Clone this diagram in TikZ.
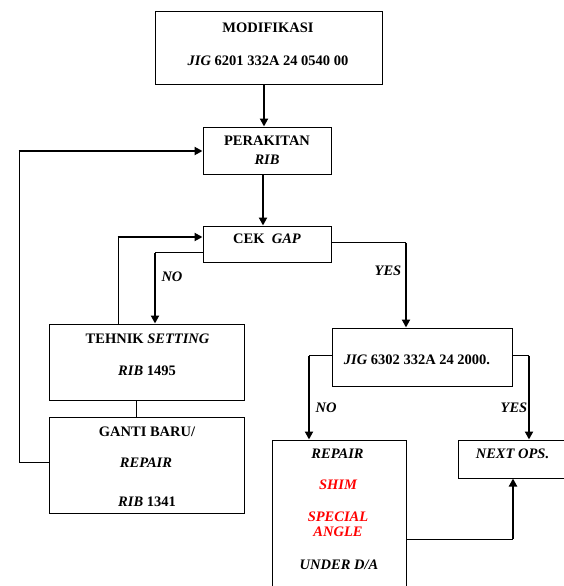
\documentclass[tikz,border=0pt]{standalone}
\usepackage{fontspec}
\setmainfont{Liberation Serif}
\usetikzlibrary{arrows.meta,calc}
\definecolor{redtxt}{RGB}{255,0,0}
\begin{document}
\begin{tikzpicture}[x=1pt,y=-1pt,
  box/.style={draw=black,line width=1pt,minimum width=#1,inner sep=0pt,fill=white},
  txt/.style={inner sep=0pt,font=\fontsize{14.5}{16}\selectfont\bfseries,text=black},
  rtxt/.style={txt,text=redtxt},
  thinline/.style={line width=1pt},
  thickline/.style={line width=2.4pt},
  arr/.style={line width=2.4pt,-{Triangle[length=8pt,width=8pt]}}
]
\useasboundingbox (0,0) rectangle (564,586);
\clip (0,0) rectangle (564,586);
% boxes
\node[box=227pt,minimum height=72pt] (mod) at (268.5,48) {};
\node[box=128pt,minimum height=47pt] (per) at (267,150.5) {};
\node[box=128pt,minimum height=36pt] (cek) at (267,244) {};
\node[box=195pt,minimum height=76pt] (teh) at (146.5,362) {};
\node[box=195pt,minimum height=96pt] (gan) at (146.5,465) {};
\node[box=180pt,minimum height=58pt] (jig) at (422,357) {};
\node[box=134pt,minimum height=150pt] (rep) at (339,515) {};
\node[box=110pt,minimum height=38pt] (nxt) at (513,459) {};
% texts
\node[txt] (t1) at (268,28) {MODIFIKASI};
\node[txt] (t2) at (268,61) {\itshape JIG\upshape{} 6201 332A 24 0540 00};
\node[txt] (t3) at (267,141) {PERAKITAN};
\node[txt] (t4) at (267,160) {\itshape RIB};
\node[txt] (t5) at (267,239) {CEK\ \ \itshape GAP};
\node[txt] (t6) at (147.5,339) {TEHNIK \itshape SETTING};
\node[txt] (t7) at (147,371) {\itshape RIB\upshape{} 1495};
\node[txt] (t8) at (147,432) {GANTI BARU/};
\node[txt] (t9) at (146,463) {\itshape REPAIR};
\node[txt] (t10) at (147,502) {\itshape RIB\upshape{} 1341};
\node[txt] (t11) at (417,360) {\itshape JIG\upshape{} 6302 332A 24 2000.};
\node[txt] (t12) at (337.5,454) {\itshape REPAIR};
\node[rtxt] (t13) at (338,485) {\itshape SHIM};
\node[rtxt] (t14) at (338,517) {\itshape SPECIAL};
\node[rtxt] (t15) at (338,532) {\itshape ANGLE};
\node[txt] (t16) at (339,565) {\itshape UNDER D/A};
\node[txt] (t17) at (512.5,454) {\itshape NEXT OPS.};
% labels
\node[txt] (no1) at (172,277) {\itshape NO};
\node[txt] (yes1) at (388,271) {\itshape YES};
\node[txt] (no2) at (326,408) {\itshape NO};
\node[txt] (yes2) at (514,408) {\itshape YES};
% coordinates
\coordinate (L1) at (19,462);
\coordinate (L2) at (19,151);
\coordinate (I1) at (118,237);
\coordinate (N1) at (155,252);
\coordinate (Y1) at (406,242);
\coordinate (J1) at (309,355);
\coordinate (J2) at (529,355);
\coordinate (R1) at (513,539);
% connectors
\draw[arr] ([xshift=-4.5pt]mod.south) -- ([xshift=-4.5pt]mod.south |- per.north);
\draw[arr] ([xshift=-4pt]per.south) -- ([xshift=-4pt]per.south |- cek.north);
\draw[thinline] (L1 -| gan.west) -- (L1) -- ([yshift=-1pt]L2);
\draw[arr] ([xshift=-0.5pt]L2) -- (L2 -| per.west);
\draw[thinline] (I1 |- teh.north) -- ([yshift=-1pt]I1);
\draw[arr] ([xshift=-0.5pt]I1) -- (I1 -| cek.west);
\draw[thinline] (N1 -| cek.west) -- (N1);
\draw[arr] ([yshift=-0.5pt]N1) -- (N1 |- teh.north);
\draw[thinline] (Y1 -| cek.east) -- (Y1);
\draw[arr] ([yshift=-0.5pt]Y1) -- (Y1 |- jig.north);
\draw[thinline] ([xshift=-10.5pt]teh.south) -- ([xshift=-10.5pt]teh.south |- gan.north);
\draw[thinline] (J1 -| jig.west) -- (J1);
\draw[arr] ([yshift=-0.5pt]J1) -- (J1 |- rep.north);
\draw[thinline] (J2 -| jig.east) -- (J2);
\draw[arr] ([yshift=-0.5pt]J2) -- (J2 |- nxt.north);
\draw[thinline] (R1 -| rep.east) -- (R1);
\draw[arr] ([yshift=0.5pt]R1) -- (R1 |- nxt.south);
\end{tikzpicture}
\end{document}
